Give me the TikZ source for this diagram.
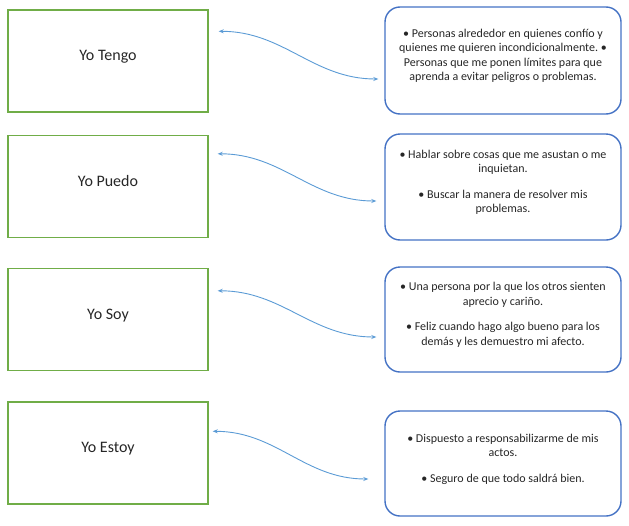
\documentclass[tikz,border=0pt]{standalone}
\usepackage{fontspec}
\setmainfont{Carlito}
\frenchspacing
\usetikzlibrary{arrows.meta}
\definecolor{boxgreen}{HTML}{70AD47}
\definecolor{boxblue}{HTML}{4472C4}
\definecolor{linkblue}{HTML}{5B9BD5}
\tikzset{yo/.style={draw=boxgreen, line width=1.4pt, minimum width=200pt, minimum height=102pt, text=black!85, font=\fontsize{16}{19}\selectfont, text depth=11pt}}
\tikzset{lista/.style={draw=boxblue, line width=1.4pt, rounded corners=15pt, minimum width=236pt, minimum height=105pt, align=center, text=black!85, font=\fontsize{12}{14.5}\selectfont, text depth=11pt}}
\tikzset{flecha/.style={draw=linkblue, line width=0.9pt, {Stealth[length=5pt,width=4pt]}-{Stealth[length=5pt,width=4pt]}}}

\begin{document}
\begin{tikzpicture}[x=1pt, y=-1pt]
  \useasboundingbox (0,0) rectangle (629,525);
  \node[yo] (tengo) at (108,61) {Yo Tengo};
  \node[yo] (puedo) at (108,186.5) {Yo Puedo};
  \node[yo] (soy) at (108,319.5) {Yo Soy};
  \node[yo] (estoy) at (108,453) {Yo Estoy};
  \node[lista, minimum height=107pt] (tengoD) at (503,60.5)
    {• Personas alrededor en quienes confío y\\
     quienes me quieren incondicionalmente. •\\
     Personas que me ponen límites para que\\
     aprenda a evitar peligros o problemas.};
  \node[lista, minimum height=106pt] (puedoD) at (503,187)
    {• Hablar sobre cosas que me asustan o me\\
     inquietan.\\[11pt]
     • Buscar la manera de resolver mis\\
     problemas.};
  \node[lista] (soyD) at (503,319.5)
    {• Una persona por la que los otros sienten\\
     aprecio y cariño.\\[11pt]
     • Feliz cuando hago algo bueno para los\\
     demás y les demuestro mi afecto.};
  \node[lista] (estoyD) at (503,463.5)
    {• Dispuesto a responsabilizarme de mis\\
     actos.\\[11pt]
     • Seguro de que todo saldrá bien.};
  % flechas
  \draw[flecha] ([xshift=10pt,yshift=-22pt]tengo.north east) to[out=0,in=180]
    ([xshift=-6pt,yshift=-18.5pt]tengoD.west);
  \draw[flecha] ([xshift=9pt,yshift=-19pt]puedo.north east) to[out=0,in=180]
    ([xshift=-8pt,yshift=-14pt]puedoD.west);
  \draw[flecha] ([xshift=9pt,yshift=-23pt]soy.north east) to[out=0,in=180]
    ([xshift=-8pt,yshift=-17.5pt]soyD.west);
  \draw[flecha] ([xshift=4pt,yshift=-30pt]estoy.north east) to[out=0,in=180]
    ([xshift=-16pt,yshift=-15.5pt]estoyD.west);
\end{tikzpicture}
\end{document}
